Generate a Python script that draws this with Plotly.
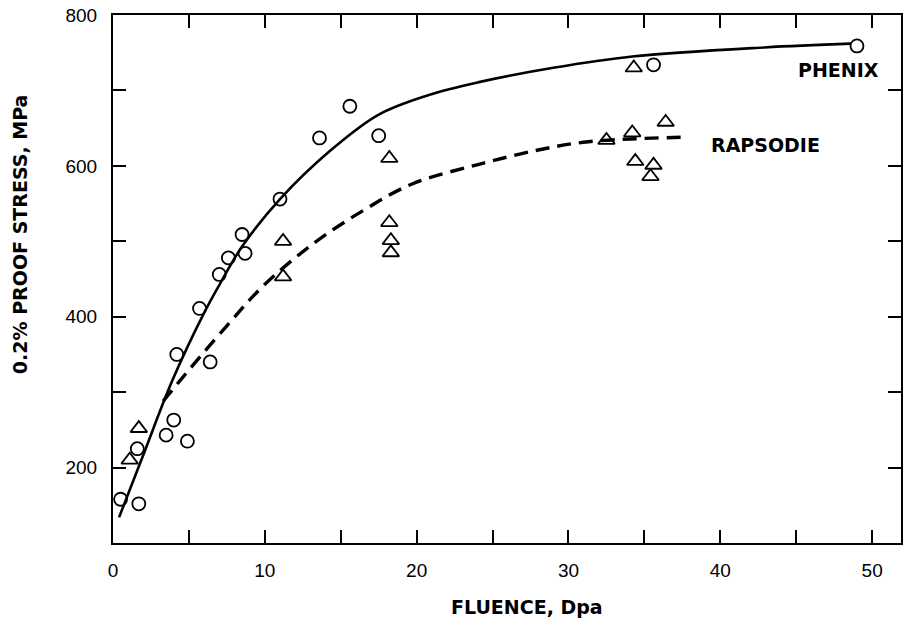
import plotly.graph_objects as go

# ---- data ----
phenix_x = [0.5, 1.7, 1.6, 4.0, 3.5, 4.9, 4.2, 5.7, 6.4, 7.0, 7.6, 8.5, 8.7, 11.0, 13.6, 15.6, 17.5, 35.6, 49.0]
phenix_y = [158, 152, 225, 263, 243, 235, 350, 411, 340, 456, 478, 509, 484, 556, 637, 679, 640, 734, 759]

rapsodie_x = [1.1, 1.7, 11.2, 11.2, 18.2, 18.2, 18.3, 18.3, 32.5, 34.2, 36.4, 34.3, 34.4, 35.6, 35.4]
rapsodie_y = [210, 252, 453, 500, 610, 525, 501, 485, 634, 644, 658, 730, 606, 601, 586]

phenix_curve_x = [0.4, 2.0, 3.9, 6.0, 7.0, 8.5, 11.0, 14.3, 17.5, 20.8, 24.1, 29.0, 34.2, 42.9, 48.6]
phenix_curve_y = [134, 217, 315, 405, 442, 493, 556, 620, 668, 694, 711, 730, 745, 757, 762]

rapsodie_curve_x = [3.3, 4.4, 7.5, 9.9, 13.2, 16.5, 19.7, 24.1, 28.0, 31.3, 37.7]
rapsodie_curve_y = [288, 315, 388, 441, 497, 541, 576, 602, 621, 632, 638]

x_tickvals = [0, 5, 10, 15, 20, 25, 30, 35, 40, 45, 50]
x_ticktext = ["0", "", "10", "", "20", "", "30", "", "40", "", "50"]
y_tickvals = [100, 200, 300, 400, 500, 600, 700, 800]
y_ticktext = ["", "200", "", "400", "", "600", "", "800"]

x_title = "FLUENCE, Dpa"
y_title = "0.2% PROOF STRESS, MPa"
labels = ["PHENIX", "RAPSODIE"]
label_x = [47.8, 43.0]
label_y = [727, 627]

fig = go.Figure()

fig.add_trace(go.Scatter(x=phenix_curve_x, y=phenix_curve_y, mode="lines",
                         line=dict(color="black", width=2.6, shape="spline", smoothing=1.0),
                         hoverinfo="skip", showlegend=False))
fig.add_trace(go.Scatter(x=rapsodie_curve_x, y=rapsodie_curve_y, mode="lines",
                         line=dict(color="black", width=3.4, dash="14px,8px", shape="spline", smoothing=1.0),
                         hoverinfo="skip", showlegend=False))
fig.add_trace(go.Scatter(x=phenix_x, y=phenix_y, mode="markers", name="PHENIX",
                         marker=dict(symbol="circle-open", size=13, color="black",
                                     line=dict(width=1.8, color="black")),
                         showlegend=False))
fig.add_trace(go.Scatter(x=rapsodie_x, y=rapsodie_y, mode="markers", name="RAPSODIE",
                         marker=dict(symbol="triangle-up-open", size=14.5, color="black",
                                     line=dict(width=1.8, color="black")),
                         showlegend=False))

for t, lx, ly in zip(labels, label_x, label_y):
    fig.add_annotation(x=lx, y=ly, xref="x", yref="y", text=t, showarrow=False,
                       xanchor="center", yanchor="middle",
                       font=dict(family="DejaVu Sans", size=19, color="black", weight="bold"))

fig.add_annotation(x=0.525, y=-0.121, xref="paper", yref="paper", text=x_title,
                   showarrow=False, xanchor="center", yanchor="middle",
                   font=dict(family="DejaVu Sans", size=19, color="black", weight="bold"))
fig.add_annotation(x=-0.118, y=0.585, xref="paper", yref="paper", text=y_title,
                   showarrow=False, xanchor="center", yanchor="middle", textangle=-90,
                   font=dict(family="DejaVu Sans", size=19, color="black", weight="bold"))

axis_common = dict(showline=True, linecolor="black", linewidth=2, mirror="ticks",
                   ticks="inside", ticklen=13, tickwidth=2, tickcolor="black",
                   showgrid=False, zeroline=False,
                   tickfont=dict(family="Liberation Sans", size=19, color="black"))

fig.update_xaxes(range=[0, 51.9], tickmode="array", tickvals=x_tickvals, ticktext=x_ticktext,
                 ticklabelstandoff=9, **axis_common)
fig.update_yaxes(range=[100, 800], tickmode="array", tickvals=y_tickvals, ticktext=y_ticktext,
                 ticklabelstandoff=10, **axis_common)

fig.update_layout(width=903, height=624, margin=dict(l=113, r=0, t=15, b=81),
                  plot_bgcolor="white", paper_bgcolor="white")

fig.write_html("out.html")
